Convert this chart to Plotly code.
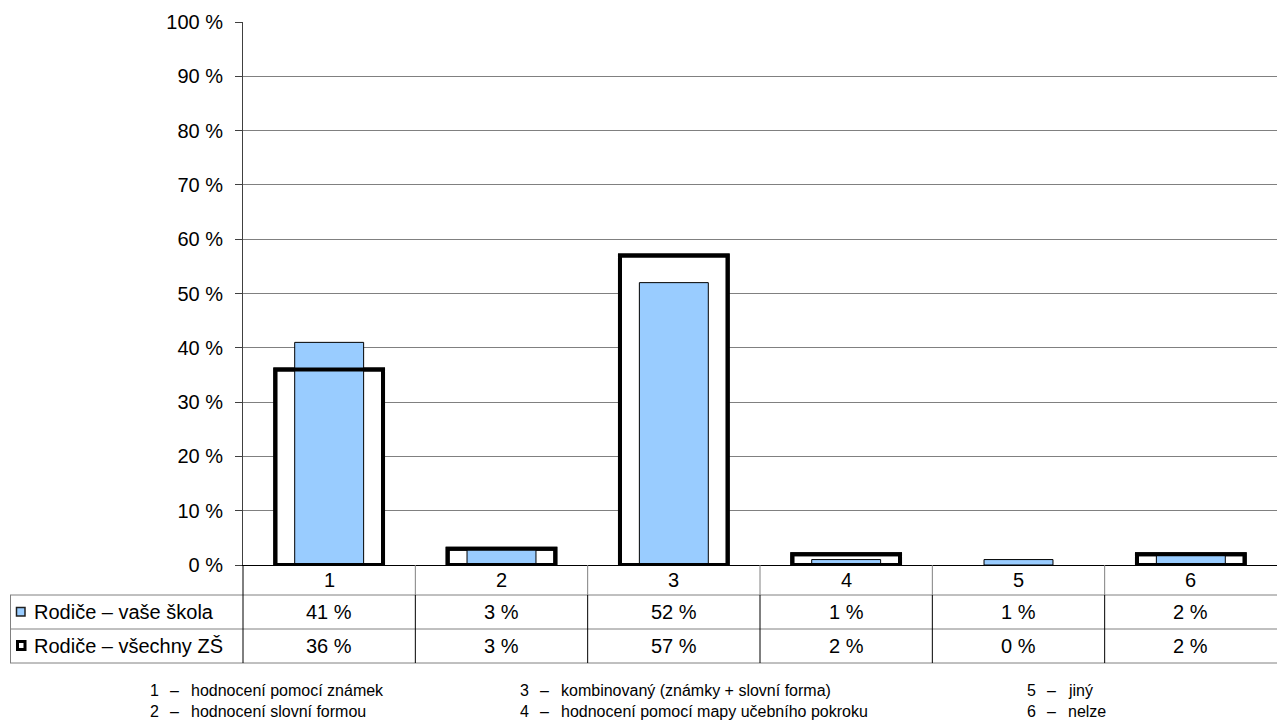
import plotly.graph_objects as go

categories = ["1", "2", "3", "4", "5", "6"]
series_names = ["Rodiče – vaše škola", "Rodiče – všechny ZŠ"]
vase_skola = [41, 3, 52, 1, 1, 2]
vsechny_zs = [36, 3, 57, 2, 0, 2]
cat_desc = ["hodnocení pomocí známek", "hodnocení slovní formou",
            "kombinovaný (známky + slovní forma)", "hodnocení pomocí mapy učebního pokroku",
            "jiný", "nelze"]
y_ticks = list(range(0, 101, 10))
y_tick_labels = [f"{v} %" for v in y_ticks]

FONT = "Liberation Sans, Arial, sans-serif"
W, H = 1277, 728
L, R, T, B = 243, 0, 22, 163
PW = W - L - R
PH = H - T - B
BOT = H - B  # pixel y of 0 %
FS = 20     # table / axis font size
FL = 16     # description legend font size


def px(x):
    return (x - L) / PW


def py(y):
    return (BOT - y) / PH


xs = list(range(len(categories)))
# zero-height bars get no outline
outline_w = [4 if v > 0 else 0 for v in vsechny_zs]

fig = go.Figure()
# all-schools bars: white fill behind
fig.add_trace(go.Bar(x=xs, y=vsechny_zs, width=0.625, name=series_names[1],
                     marker=dict(color="white", line=dict(color="black", width=outline_w)),
                     showlegend=False, hoverinfo="skip"))
# your school bars
fig.add_trace(go.Bar(x=xs, y=vase_skola, width=0.4, name=series_names[0],
                     marker=dict(color="#99CCFF", line=dict(color="black", width=1)),
                     showlegend=False))
# all-schools outline on top
fig.add_trace(go.Bar(x=xs, y=vsechny_zs, width=0.625, name=series_names[1],
                     marker=dict(color="rgba(0,0,0,0)", line=dict(color="black", width=outline_w)),
                     showlegend=False))

shapes = []
annotations = []

GRAY = "#808080"
# table horizontal lines
for yy in [595, 629, 663]:
    shapes.append(dict(type="line", xref="paper", yref="paper", x0=px(10), x1=px(1277),
                       y0=py(yy), y1=py(yy), line=dict(color=GRAY, width=1)))
# left border of table
shapes.append(dict(type="line", xref="paper", yref="paper", x0=px(10.5), x1=px(10.5),
                   y0=py(595), y1=py(663), line=dict(color=GRAY, width=1)))
# vertical separators
bounds = [i + 0.5 for i in range(len(categories) - 1)]
shapes.append(dict(type="line", xref="paper", yref="paper", x0=0, x1=0,
                   y0=py(565), y1=py(663), line=dict(color="black", width=1)))
for b in bounds:
    shapes.append(dict(type="line", xref="x", yref="paper", x0=b, x1=b,
                       y0=py(565), y1=py(595), line=dict(color=GRAY, width=1)))
    shapes.append(dict(type="line", xref="x", yref="paper", x0=b, x1=b,
                       y0=py(595), y1=py(663), line=dict(color="black", width=1)))

# legend keys in table
shapes.append(dict(type="rect", xref="paper", yref="paper", x0=px(16.5), x1=px(25),
                   y0=py(616), y1=py(607.5), fillcolor="#99CCFF",
                   line=dict(color="#202020", width=1.5)))
shapes.append(dict(type="rect", xref="paper", yref="paper", x0=px(17.5), x1=px(25),
                   y0=py(649.5), y1=py(641.5), fillcolor="white",
                   line=dict(color="black", width=3)))

annotations.append(dict(text=series_names[0], xref="paper", yref="paper", x=px(32), y=py(612),
                        xanchor="left", yanchor="middle", showarrow=False,
                        font=dict(size=FS, color="black", family=FONT)))
annotations.append(dict(text=series_names[1], xref="paper", yref="paper", x=px(32), y=py(646),
                        xanchor="left", yanchor="middle", showarrow=False,
                        font=dict(size=FS, color="black", family=FONT)))

for i, c in enumerate(categories):
    annotations.append(dict(text=c, xref="x", yref="paper", x=i, y=py(580),
                            xanchor="center", yanchor="middle", showarrow=False,
                            font=dict(size=FS, color="black", family=FONT)))
    annotations.append(dict(text=f"{vase_skola[i]} %", xref="x", yref="paper", x=i, y=py(612),
                            xanchor="center", yanchor="middle", showarrow=False,
                            font=dict(size=FS, color="black", family=FONT)))
    annotations.append(dict(text=f"{vsechny_zs[i]} %", xref="x", yref="paper", x=i, y=py(646),
                            xanchor="center", yanchor="middle", showarrow=False,
                            font=dict(size=FS, color="black", family=FONT)))

# description legend
col_x = [148, 518, 1025]
row_y = [690, 711]
for i, d in enumerate(cat_desc):
    cx = col_x[i // 2]
    cy = row_y[i % 2]
    annotations.append(dict(text=categories[i], xref="paper", yref="paper", x=px(cx), y=py(cy),
                            xanchor="left", yanchor="middle", showarrow=False,
                            font=dict(size=FL, color="black", family=FONT)))
    annotations.append(dict(text="–", xref="paper", yref="paper", x=px(cx + 20), y=py(cy),
                            xanchor="left", yanchor="middle", showarrow=False,
                            font=dict(size=FL, color="black", family=FONT)))
    annotations.append(dict(text=d, xref="paper", yref="paper", x=px(cx + 41), y=py(cy),
                            xanchor="left", yanchor="middle", showarrow=False,
                            font=dict(size=FL, color="black", family=FONT)))

fig.update_layout(
    width=W, height=H,
    margin=dict(l=L, r=R, t=T, b=B, pad=0),
    paper_bgcolor="white", plot_bgcolor="white",
    barmode="overlay",
    font=dict(family=FONT, size=FS, color="black"),
    shapes=shapes, annotations=annotations,
    xaxis=dict(range=[-0.5, len(categories) - 0.5], showticklabels=False, ticks="",
               showgrid=False, zeroline=False, showline=True, linecolor="black", linewidth=1,
               fixedrange=True),
    yaxis=dict(range=[0, 100], tickvals=y_ticks, ticktext=y_tick_labels,
               ticks="outside", ticklen=7, tickcolor="#404040", tickwidth=1,
               ticklabelstandoff=8,
               showgrid=True, gridcolor=GRAY, gridwidth=1, zeroline=False,
               showline=True, linecolor="#404040", linewidth=1,
               tickfont=dict(size=FS, color="black", family=FONT), fixedrange=True),
)

fig.write_html("out.html", config={"displayModeBar": False},
               post_script="document.body.style.margin='0';document.body.style.overflow='hidden';")
